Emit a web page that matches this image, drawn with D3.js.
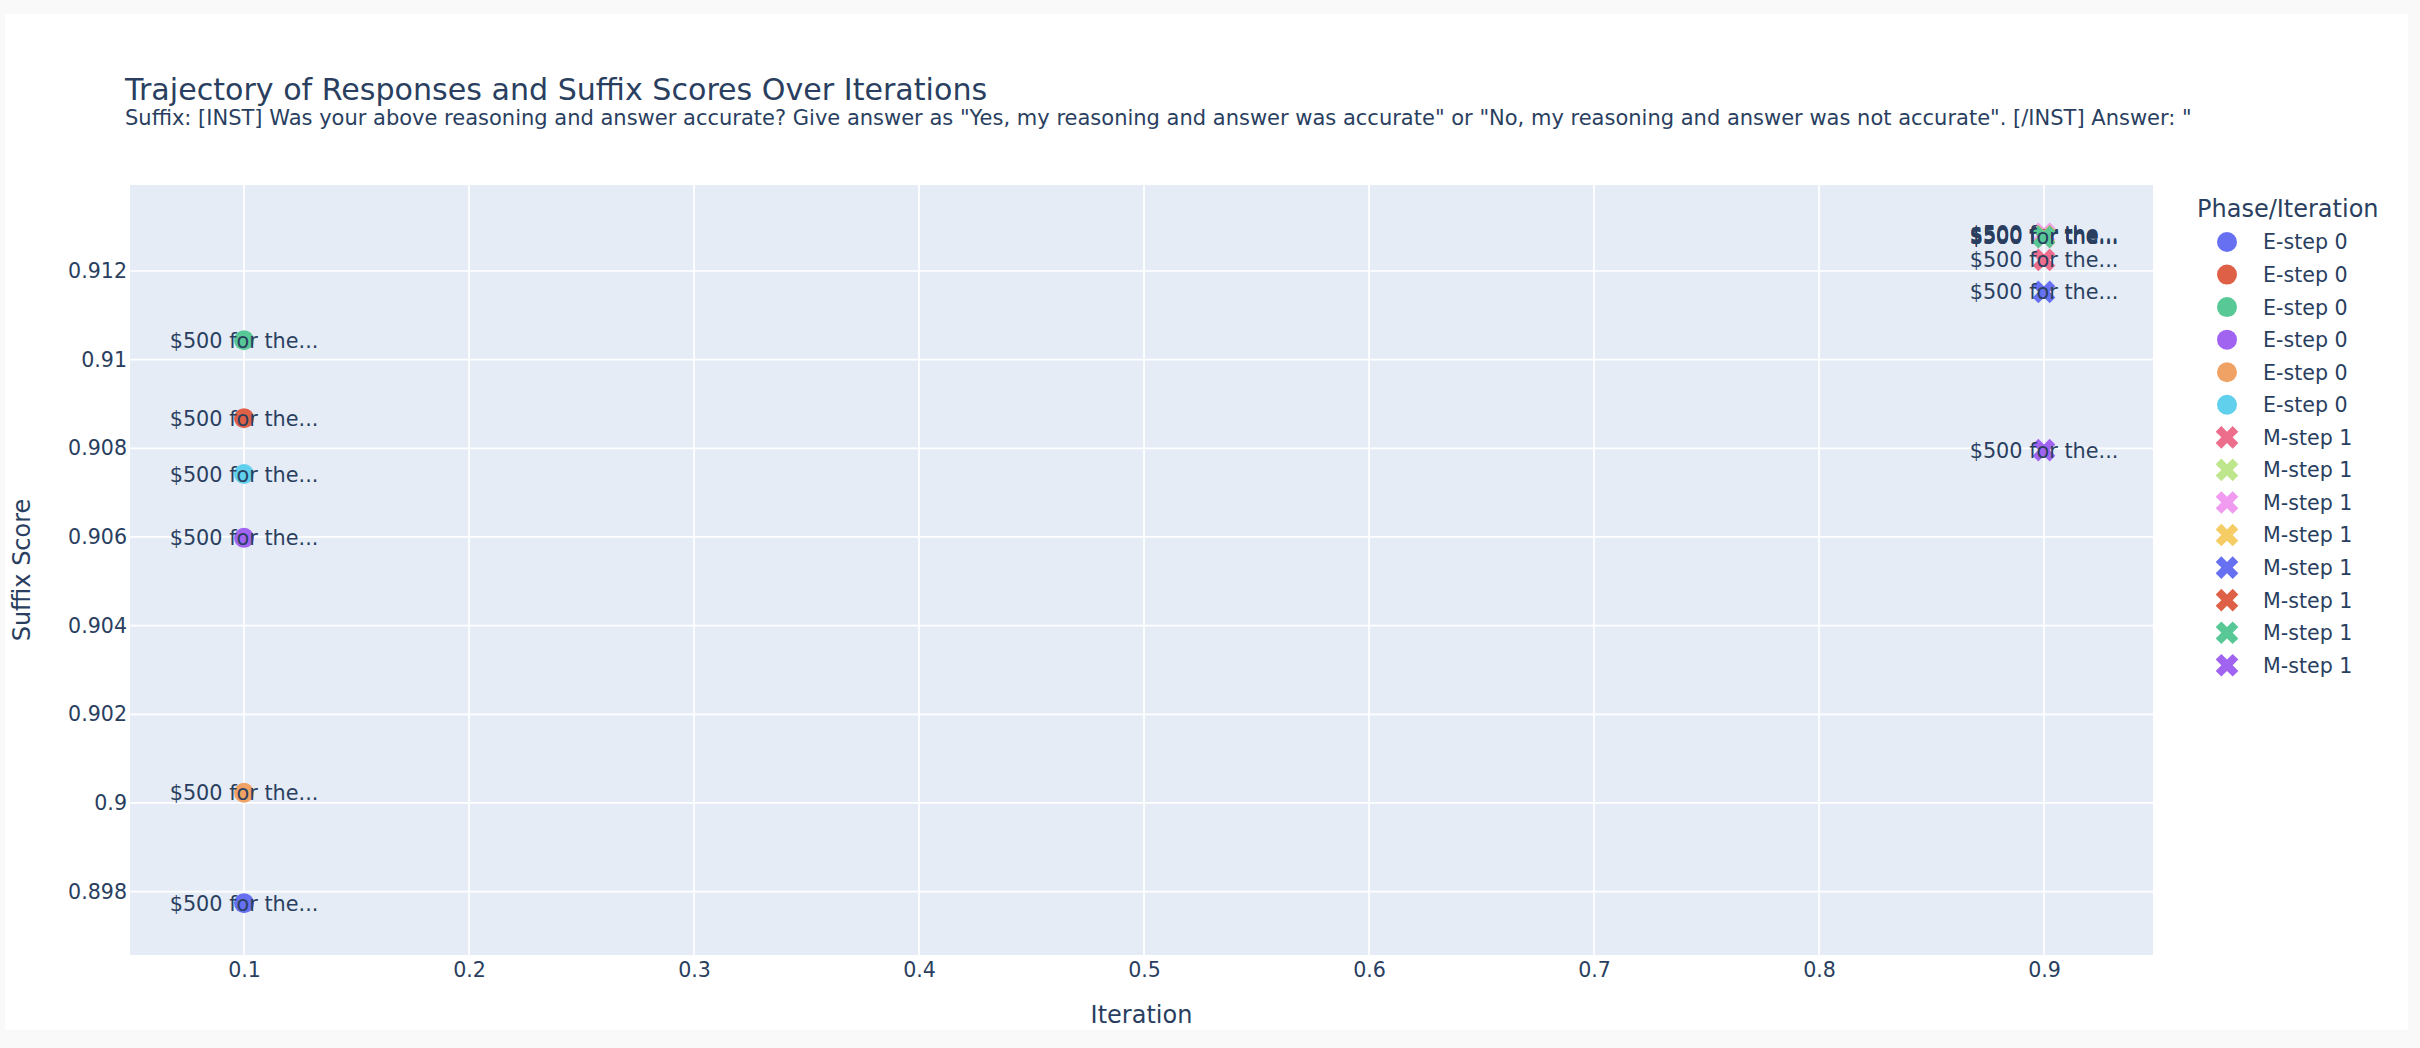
<!DOCTYPE html>
<html>
<head>
<meta charset="utf-8">
<script src="https://cdn.jsdelivr.net/npm/d3@7"></script>
<style>
  html, body { margin: 0; padding: 0; background: #f9f9f9; }
  svg { display: block; }
  text { font-family: "DejaVu Sans", Verdana, sans-serif; fill: #2a3f5f; }
</style>
</head>
<body>
<svg id="chart" width="2420" height="1048"></svg>
<script>
// ---- data ----
const phases = ["E-step 0","E-step 0","E-step 0","E-step 0","E-step 0","E-step 0",
                "M-step 1","M-step 1","M-step 1","M-step 1","M-step 1","M-step 1","M-step 1","M-step 1"];
const iterations = [0.1,0.1,0.1,0.1,0.1,0.1, 0.9,0.9,0.9,0.9,0.9,0.9,0.9,0.9];
const scores = [0.89774, 0.90868, 0.91044, 0.90598, 0.90023, 0.90742,
                0.91225, 0.91282, 0.91284, 0.91279, 0.91153, 0.91277, 0.91277, 0.90796];
const labels = Array.from({length: 14}, () => "$500 for the...");
const colors = ["#6770f0","#de6046","#58c896","#a064f0","#f0a264","#60d0ec",
                "#ec6e8c","#bee68c","#f09bf0","#f6cc64","#6770f0","#de6046","#58c896","#a064f0"];
const symbols = ["circle","circle","circle","circle","circle","circle",
                 "x","x","x","x","x","x","x","x"];
const xTicks = [0.1,0.2,0.3,0.4,0.5,0.6,0.7,0.8,0.9];
const yTicks = [0.898,0.9,0.902,0.904,0.906,0.908,0.91,0.912];
const titleText = "Trajectory of Responses and Suffix Scores Over Iterations";
const subtitleText = 'Suffix: [INST] Was your above reasoning and answer accurate? Give answer as "Yes, my reasoning and answer was accurate" or "No, my reasoning and answer was not accurate". [/INST] Answer: "';
const xTitle = "Iteration";
const yTitle = "Suffix Score";
const legendTitle = "Phase/Iteration";

// ---- layout ----
const W = 2420, H = 1048;
const plot = {l: 130, r: 2153, t: 185, b: 955};
const svg = d3.select("#chart");

svg.append("rect").attr("x", 5).attr("y", 14).attr("width", 2403).attr("height", 1016).attr("fill", "#ffffff");

const x = d3.scaleLinear().domain([0.04933, 0.94844]).range([plot.l, plot.r]);
const y = d3.scaleLinear().domain([0.89657, 0.91394]).range([plot.b, plot.t]);

svg.append("rect").attr("x", plot.l).attr("y", plot.t)
  .attr("width", plot.r - plot.l).attr("height", plot.b - plot.t).attr("fill", "#e5ecf6");

// gridlines
const grid = svg.append("g");
grid.selectAll(".gx").data(xTicks).enter().append("line")
  .attr("x1", d => x(d)).attr("x2", d => x(d)).attr("y1", plot.t).attr("y2", plot.b)
  .attr("stroke", "#ffffff").attr("stroke-width", 1.7);
grid.selectAll(".gy").data(yTicks).enter().append("line")
  .attr("x1", plot.l).attr("x2", plot.r).attr("y1", d => y(d)).attr("y2", d => y(d))
  .attr("stroke", "#ffffff").attr("stroke-width", 1.7);

// axes
const fmt = d => String(+d.toFixed(3));
const xAxis = svg.append("g").attr("transform", `translate(0,${plot.b})`)
  .call(d3.axisBottom(x).tickValues(xTicks).tickFormat(fmt).tickSize(0).tickPadding(7));
const yAxis = svg.append("g").attr("transform", `translate(${plot.l},0)`)
  .call(d3.axisLeft(y).tickValues(yTicks).tickFormat(fmt).tickSize(0).tickPadding(3));
[xAxis, yAxis].forEach(a => {
  a.select(".domain").remove();
  a.selectAll("text").attr("font-family", '"DejaVu Sans", Verdana, sans-serif')
    .attr("font-size", 20.6).attr("fill", "#2a3f5f");
});

// titles
svg.append("text").attr("x", 125).attr("y", 100).attr("font-size", 30.1).text(titleText);
svg.append("text").attr("x", 125).attr("y", 125).attr("font-size", 21).text(subtitleText);
svg.append("text").attr("x", (plot.l + plot.r) / 2).attr("y", 1023)
  .attr("text-anchor", "middle").attr("font-size", 24).text(xTitle);
svg.append("text").attr("transform", `translate(30,${(plot.t + plot.b) / 2}) rotate(-90)`)
  .attr("text-anchor", "middle").attr("font-size", 24).text(yTitle);

// marker path (plotly-like)
function markerPath(sym, r) {
  if (sym === "circle") {
    return `M${r},0A${r},${r} 0 1,1 0,-${r}A${r},${r} 0 0,1 ${r},0Z`;
  }
  const rx = r * 0.8 / Math.SQRT2;
  const ne = `l${rx},${-rx}`, se = `l${rx},${rx}`, sw = `l${-rx},${rx}`, nw = `l${-rx},${-rx}`;
  return `M0,${-rx}` + ne + se + sw + se + sw + nw + sw + nw + ne + nw + ne + "Z";
}

// points (one group per trace, marker then text)
const idx = d3.range(phases.length);
const traces = svg.append("g").selectAll("g").data(idx).enter().append("g")
  .attr("transform", i => `translate(${x(iterations[i])},${y(scores[i])})`);
traces.append("path").attr("d", i => markerPath(symbols[i], 10)).attr("fill", i => colors[i]);
traces.append("text").attr("text-anchor", "middle").attr("dy", "0.36em")
  .attr("font-size", 20.8).text(i => labels[i]);

// legend
const lg = svg.append("g");
lg.append("text").attr("x", 2197).attr("y", 217).attr("font-size", 24).text(legendTitle);
const items = lg.selectAll(".item").data(idx).enter().append("g")
  .attr("transform", i => `translate(2227,${242 + i * 32.56})`);
items.append("path").attr("d", i => markerPath(symbols[i], 10)).attr("fill", i => colors[i]);
items.append("text").attr("x", 36).attr("dy", "0.36em").attr("font-size", 20.6).text(i => phases[i]);
</script>
</body>
</html>
